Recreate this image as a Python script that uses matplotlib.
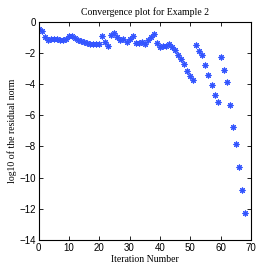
import matplotlib
matplotlib.use('Agg')
import matplotlib.pyplot as plt
import numpy as np

iters = np.arange(0, 69)
lognorm = [-0.47, -0.62, -1.0, -1.2, -1.12, -1.1, -1.11, -1.15, -1.17, -1.1,
           -0.93, -0.95, -1.07, -1.17, -1.26, -1.32, -1.36, -1.41, -1.45, -1.45,
           -1.43, -0.94, -1.28, -1.56, -0.83, -0.75, -1.0, -1.2, -1.11, -1.3,
           -1.11, -0.94, -1.35, -1.35, -1.28, -1.43, -1.2, -1.0, -0.79, -1.39,
           -1.62, -1.56, -1.56, -1.43, -1.6, -1.84, -2.13, -2.43, -2.75, -3.2,
           -3.52, -3.76, -1.49, -1.9, -2.16, -2.78, -3.44, -4.06, -4.68, -5.17,
           -2.24, -3.1, -3.9, -5.34, -6.73, -7.84, -9.31, -10.77, -12.26]

serif = 'Liberation Serif'
fig = plt.figure(figsize=(2.77, 2.77), dpi=100)
ax = fig.add_axes([0.139, 0.134, 0.767, 0.788])
ax.plot(iters, lognorm, linestyle='none', marker=(8, 2, 0), color='#3355ff',
        markersize=4.2, markeredgewidth=0.8)
ax.set_xlim(0, 70)
ax.set_ylim(-14, 0)
ax.set_xticks(range(0, 71, 10))
ax.set_yticks(range(-14, 1, 2))
ax.tick_params(direction='in', length=3, width=0.6, labelsize=7, top=True, right=True, pad=2)
for lab in ax.get_xticklabels() + ax.get_yticklabels():
    lab.set_family('Liberation Sans')
for s in ax.spines.values():
    s.set_linewidth(0.8)
ax.set_title('Convergence plot for Example 2', fontsize=7, family=serif, pad=5)
ax.set_xlabel('Iteration Number', fontsize=7, family=serif, labelpad=2)
ax.set_ylabel('log10 of the residual norm', fontsize=7, family=serif)
ax.yaxis.set_label_coords(-0.1, 0.5)
fig.savefig('out.png', dpi=100)
